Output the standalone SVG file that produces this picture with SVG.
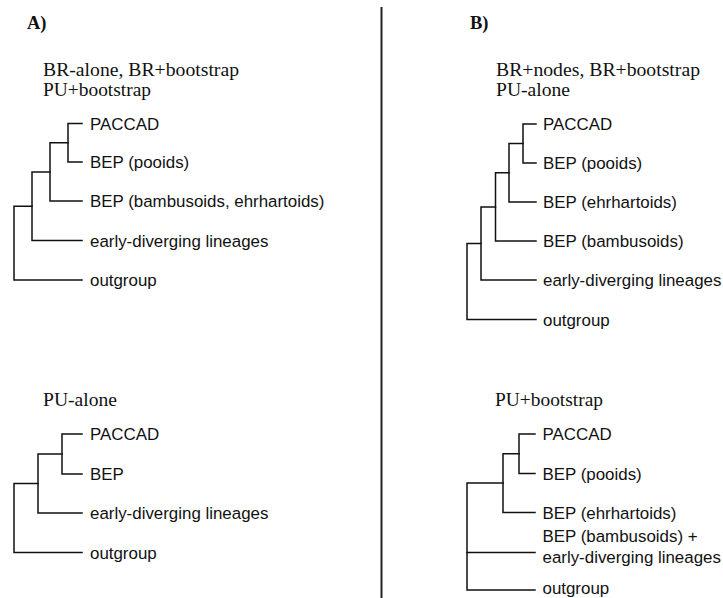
<svg xmlns="http://www.w3.org/2000/svg" width="723" height="598" viewBox="0 0 723 598">
  <style>
    .edge { fill: none; stroke: #111; stroke-width: 1.5; stroke-linecap: square; stroke-linejoin: miter; }
    .divider { stroke: #222; stroke-width: 2; }
    .panel { font-family: "Liberation Serif", "Times New Roman", serif; font-weight: bold; font-size: 18.5px; fill: #111; }
    .title { font-family: "Liberation Serif", "Times New Roman", serif; font-size: 18px; fill: #111; }
    .taxon { font-family: "Liberation Sans", Arial, Helvetica, sans-serif; font-size: 16.9px; fill: #111; }
  </style>
  <rect width="723" height="598" fill="#ffffff"/>

  <!-- separator between panels -->
  <line class="divider" x1="381.5" y1="7" x2="381.5" y2="598"/>

  <!-- panel letters -->
  <text class="panel" x="27" y="28.5">A)</text>
  <text class="panel" x="470" y="28.5">B)</text>

  <!-- scenario headings -->
  <g id="headings">
    <text class="title" x="43" y="75.5" textLength="196" lengthAdjust="spacingAndGlyphs">BR-alone, BR+bootstrap</text>
    <text class="title" x="43" y="95.5" textLength="108" lengthAdjust="spacingAndGlyphs">PU+bootstrap</text>
    <text class="title" x="43" y="406" textLength="74" lengthAdjust="spacingAndGlyphs">PU-alone</text>
    <text class="title" x="496" y="75.5" textLength="204" lengthAdjust="spacingAndGlyphs">BR+nodes, BR+bootstrap</text>
    <text class="title" x="496" y="95.5" textLength="74" lengthAdjust="spacingAndGlyphs">PU-alone</text>
    <text class="title" x="495" y="406" textLength="108" lengthAdjust="spacingAndGlyphs">PU+bootstrap</text>
  </g>

  <!-- tree branches -->
  <g id="connectors">
    <!-- A, upper tree -->
    <path class="edge" d="M82 123.5 H68 V162 H82"/>
    <path class="edge" d="M68 142.75 H50 V201 H82"/>
    <path class="edge" d="M50 171.9 H32 V240.5 H82"/>
    <path class="edge" d="M32 206.2 H14 V280 H82"/>
    <!-- A, lower tree -->
    <path class="edge" d="M82 434 H62 V474 H82"/>
    <path class="edge" d="M62 454 H38 V513 H82"/>
    <path class="edge" d="M38 483.5 H14 V552.5 H82"/>
    <!-- B, upper tree -->
    <path class="edge" d="M536 124 H523 V163 H536"/>
    <path class="edge" d="M523 143.5 H509 V202 H536"/>
    <path class="edge" d="M509 172.75 H495.5 V241 H536"/>
    <path class="edge" d="M495.5 206.9 H481 V280 H536"/>
    <path class="edge" d="M481 243.4 H467 V319.5 H536"/>
    <!-- B, lower tree -->
    <path class="edge" d="M535 434 H519 V473.5 H535"/>
    <path class="edge" d="M519 453.75 H503 V512.5 H535"/>
    <path class="edge" d="M503 483 H467 V590 H535"/>
    <path class="edge" d="M467 552.5 H535"/>
  </g>

  <!-- A, upper tree: terminal taxa -->
  <g id="a1-paccad"><text class="taxon" x="90" y="129.5">PACCAD</text></g>
  <g id="a1-bep-pooids"><text class="taxon" x="90" y="168">BEP (pooids)</text></g>
  <g id="a1-bep-bamb-ehrh"><text class="taxon" x="90" y="207">BEP (bambusoids, ehrhartoids)</text></g>
  <g id="a1-early"><text class="taxon" x="90" y="246.5">early-diverging lineages</text></g>
  <g id="a1-outgroup"><text class="taxon" x="90" y="286">outgroup</text></g>

  <!-- A, lower tree: terminal taxa -->
  <g id="a2-paccad"><text class="taxon" x="90" y="440">PACCAD</text></g>
  <g id="a2-bep"><text class="taxon" x="90" y="480">BEP</text></g>
  <g id="a2-early"><text class="taxon" x="90" y="519">early-diverging lineages</text></g>
  <g id="a2-outgroup"><text class="taxon" x="90" y="558.5">outgroup</text></g>

  <!-- B, upper tree: terminal taxa -->
  <g id="b1-paccad"><text class="taxon" x="543" y="130">PACCAD</text></g>
  <g id="b1-bep-pooids"><text class="taxon" x="543" y="169">BEP (pooids)</text></g>
  <g id="b1-bep-ehrh"><text class="taxon" x="543" y="208">BEP (ehrhartoids)</text></g>
  <g id="b1-bep-bamb"><text class="taxon" x="543" y="247">BEP (bambusoids)</text></g>
  <g id="b1-early"><text class="taxon" x="543" y="286">early-diverging lineages</text></g>
  <g id="b1-outgroup"><text class="taxon" x="543" y="325.5">outgroup</text></g>

  <!-- B, lower tree: terminal taxa -->
  <g id="b2-paccad"><text class="taxon" x="542.5" y="440">PACCAD</text></g>
  <g id="b2-bep-pooids"><text class="taxon" x="542.5" y="479.5">BEP (pooids)</text></g>
  <g id="b2-bep-ehrh"><text class="taxon" x="542.5" y="518.5">BEP (ehrhartoids)</text></g>
  <g id="b2-bamb-early">
    <text class="taxon" x="542.5" y="542">BEP (bambusoids) +</text>
    <text class="taxon" x="542.5" y="563">early-diverging lineages</text>
  </g>
  <g id="b2-outgroup"><text class="taxon" x="542.5" y="594">outgroup</text></g>
</svg>
